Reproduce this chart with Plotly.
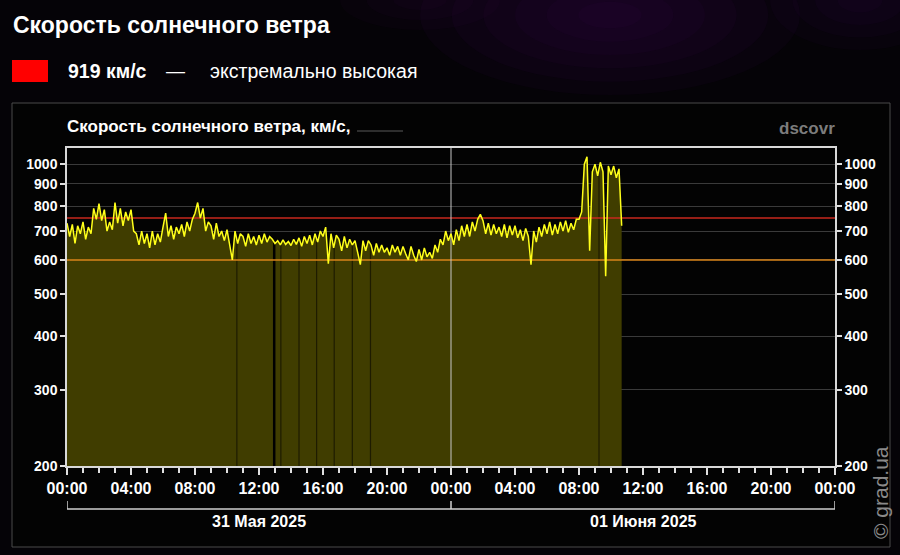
import numpy as np
import pandas as pd
import plotly.graph_objects as go

# ---------------- data ----------------
start_time = "2025-05-31 00:00"
step_minutes = 10
# solar wind speed, km/s, every 10 minutes
speed = [
    730, 680, 725, 655, 720, 690,   # 00h 31.05
    735, 670, 715, 690, 790, 745,   # 01h
    810, 740, 785, 700, 735, 705,   # 02h
    815, 730, 790, 720, 775, 740,   # 03h
    785, 700, 690, 650, 700, 655,   # 04h
    690, 640, 700, 650, 690, 660,   # 05h
    715, 770, 680, 720, 670, 715,   # 06h
    690, 725, 680, 735, 700, 745,   # 07h
    770, 815, 750, 790, 700, 735,   # 08h
    720, 670, 730, 680, 700, 665,   # 09h
    705, 650, 600, 700, 655, 690,   # 10h
    680, 645, 690, 655, 680, 650,   # 11h
    685, 655, 690, 660, 680, 670,   # 12h
    655, 665, 650, 668, 652, 662,   # 13h
    648, 670, 652, 675, 645, 680,   # 14h
    655, 685, 650, 690, 660, 700,   # 15h
    680, 715, 588, 690, 640, 685,   # 16h
    670, 630, 680, 640, 670, 650,   # 17h
    665, 625, 585, 665, 630, 665,   # 18h
    650, 615, 655, 625, 650, 625,   # 19h
    640, 615, 650, 625, 645, 615,   # 20h
    645, 620, 600, 645, 615, 595,   # 21h
    635, 600, 640, 610, 625, 605,   # 22h
    650, 625, 670, 650, 700, 665,   # 23h
    690, 650, 705, 665, 720, 680,   # 00h 01.06
    725, 680, 735, 700, 745, 765,   # 01h
    740, 690, 730, 685, 725, 690,   # 02h
    715, 680, 725, 675, 720, 685,   # 03h
    720, 675, 705, 665, 710, 680,   # 04h
    585, 700, 660, 715, 680, 725,   # 05h
    690, 735, 685, 725, 690, 735,   # 06h
    700, 740, 695, 730, 705, 745,   # 07h
    745, 775, 1000, 1040, 630, 960, # 08h
    1000, 940, 1010, 960, 550, 990, # 09h
    945, 990, 930, 975, 720,        # 10h
]

# data gaps (dark vertical lines inside the fill)
gap_times = ["2025-05-31 10:37", "2025-05-31 13:22", "2025-05-31 14:30",
             "2025-05-31 15:36", "2025-05-31 16:42", "2025-05-31 17:50",
             "2025-05-31 18:58", "2025-06-01 09:15"]
wide_gap_times = ["2025-05-31 12:57"]

fast_level = 750      # red threshold
moderate_level = 600  # orange threshold
current_value = 919

y_ticks = [200, 300, 400, 500, 600, 700, 800, 900, 1000]
day_labels = ["31 Мая 2025", "01 Июня 2025"]
day_starts = ["2025-05-31 00:00", "2025-06-01 00:00", "2025-06-02 00:00"]
day_centers = ["2025-05-31 12:00", "2025-06-01 12:00"]

# ---------------- figure ----------------
t = pd.date_range(start_time, periods=len(speed), freq=f"{step_minutes}min")
t_ns = t.values.astype("datetime64[ns]").astype(np.int64)

def top_at(times):
    tt = pd.to_datetime(times).values.astype("datetime64[ns]").astype(np.int64)
    return np.interp(tt, t_ns, speed)

FONT = "Liberation Sans"
LINE_Y = "#ffff1a"
FILL = "#403d00"
x0, x1 = day_starts[0], day_starts[-1]

fig = go.Figure()

# fill
fig.add_trace(go.Scatter(x=t, y=speed, mode="lines", line=dict(width=0, color=FILL),
                         fill="tozeroy", fillcolor=FILL, hoverinfo="skip", showlegend=False))

# gaps
gx, gy = [], []
for g, top in zip(gap_times, top_at(gap_times)):
    gx += [g, g, None]; gy += [200, top, None]
fig.add_trace(go.Scatter(x=gx, y=gy, mode="lines", line=dict(color="#1e1c00", width=1.2),
                         hoverinfo="skip", showlegend=False))
wx, wy = [], []
for g, top in zip(wide_gap_times, top_at(wide_gap_times)):
    wx += [g, g, None]; wy += [200, top, None]
fig.add_trace(go.Scatter(x=wx, y=wy, mode="lines", line=dict(color="#000000", width=2.5),
                         hoverinfo="skip", showlegend=False))

# thresholds
fig.add_trace(go.Scatter(x=[x0, x1], y=[fast_level, fast_level], mode="lines",
                         line=dict(color="#c8281e", width=1.5), hoverinfo="skip", showlegend=False))
fig.add_trace(go.Scatter(x=[x0, x1], y=[moderate_level, moderate_level], mode="lines",
                         line=dict(color="#d8841a", width=1.5), hoverinfo="skip", showlegend=False))
# midnight line
fig.add_trace(go.Scatter(x=[day_starts[1], day_starts[1]], y=[200, 1090], mode="lines",
                         line=dict(color="#c8c8c8", width=1), hoverinfo="skip", showlegend=False))

# speed line
fig.add_trace(go.Scatter(x=t, y=speed, mode="lines", line=dict(color=LINE_Y, width=1.5),
                         showlegend=False))
# dummy for right axis
fig.add_trace(go.Scatter(x=[t[0]], y=[speed[0]], yaxis="y2", mode="markers",
                         marker=dict(opacity=0), hoverinfo="skip", showlegend=False))

yr = [np.log10(200), np.log10(1090)]
tickfont = dict(family=FONT, size=14, color="white", weight="bold")

fig.update_layout(
    width=900, height=555,
    margin=dict(l=67, r=65, t=148, b=89),
    paper_bgcolor="#050307", plot_bgcolor="rgba(0,0,0,0)",
    font=dict(family=FONT, color="white"),
    xaxis=dict(range=[x0, x1], type="date", dtick=4 * 3600 * 1000, tick0=x0,
               tickformat="%H:%M", ticks="outside", ticklen=7, tickcolor="#e0e0e0",
               tickwidth=1.5,
               minor=dict(dtick=3600 * 1000, ticks="outside", ticklen=5, tickcolor="#e0e0e0",
                          showgrid=False),
               showgrid=False, showline=True, linecolor="#d8d8d8", linewidth=1.5, mirror=True,
               tickfont=dict(family=FONT, size=16, color="white", weight="bold"),
               zeroline=False),
    yaxis=dict(type="log", range=yr, tickvals=y_ticks, ticktext=[str(v) for v in y_ticks],
               ticks="outside", ticklen=5, tickcolor="#e0e0e0", tickwidth=1.5,
               showgrid=True, gridcolor="#3a3a3a", gridwidth=1,
               showline=True, linecolor="#d8d8d8", linewidth=1.5, mirror=True,
               tickfont=tickfont, zeroline=False),
    yaxis2=dict(type="log", range=yr, tickvals=y_ticks, ticktext=[str(v) for v in y_ticks],
                overlaying="y", side="right", ticks="outside", ticklen=5, tickcolor="#e0e0e0",
                tickwidth=1.5, showgrid=False, showline=True, linecolor="#d8d8d8", linewidth=1.5,
                tickfont=tickfont, zeroline=False),
)

def px_x(px):
    return (px - 67) / 768

def px_y(py):
    return (466 - py) / 318

shapes = []
# soft purple haze in background (many faint layers)
for cx, cy, rx, ry, n, op in [(610, 15, 190, 80, 6, 0.07), (860, 0, 90, 50, 4, 0.06),
                              (420, 0, 80, 30, 3, 0.05)]:
    for k in range(n):
        f = 1 - k / n
        shapes.append(dict(type="circle", xref="paper", yref="paper", layer="below",
                           x0=px_x(cx - rx * f), x1=px_x(cx + rx * f),
                           y0=px_y(cy + ry * f), y1=px_y(cy - ry * f),
                           fillcolor="#4a1368", opacity=op, line=dict(width=0)))
# panel
shapes.append(dict(type="rect", xref="paper", yref="paper", layer="below",
                   x0=px_x(12), x1=px_x(890), y0=px_y(547), y1=px_y(103),
                   fillcolor="#030303", line=dict(color="#4a4a4a", width=1)))
# red legend box
shapes.append(dict(type="rect", xref="paper", yref="paper",
                   x0=px_x(12), x1=px_x(48), y0=px_y(82), y1=px_y(60),
                   fillcolor="#ff0000", line=dict(width=0)))
# subtitle legend line
shapes.append(dict(type="line", xref="paper", yref="paper",
                   x0=px_x(357), x1=px_x(403), y0=px_y(131), y1=px_y(131),
                   line=dict(color="#5a5a5a", width=1)))
# day brackets
for i in range(len(day_labels)):
    shapes.append(dict(type="line", xref="x", yref="paper",
                       x0=day_starts[i], x1=day_starts[i + 1], y0=px_y(509), y1=px_y(509),
                       line=dict(color="#cfcfcf", width=1.5)))
for d in day_starts:
    shapes.append(dict(type="line", xref="x", yref="paper",
                       x0=d, x1=d, y0=px_y(509), y1=px_y(501),
                       line=dict(color="#cfcfcf", width=1.5)))
fig.update_layout(shapes=shapes)

ann = []
ann.append(dict(text="Скорость солнечного ветра", xref="paper", yref="paper",
                x=px_x(11), y=px_y(25), xanchor="left", yanchor="middle", showarrow=False,
                font=dict(family=FONT, size=23, color="white", weight="bold")))
ann.append(dict(text=f"{current_value} км/с", xref="paper", yref="paper",
                x=px_x(66), y=px_y(71), xanchor="left", yanchor="middle", showarrow=False,
                font=dict(family=FONT, size=19.5, color="white", weight="bold")))
ann.append(dict(text="—", xref="paper", yref="paper",
                x=px_x(164), y=px_y(71), xanchor="left", yanchor="middle", showarrow=False,
                font=dict(family=FONT, size=19, color="white")))
ann.append(dict(text="экстремально высокая", xref="paper", yref="paper",
                x=px_x(208), y=px_y(71), xanchor="left", yanchor="middle", showarrow=False,
                font=dict(family=FONT, size=19.5, color="white")))
ann.append(dict(text="Скорость солнечного ветра, км/с,", xref="paper", yref="paper",
                x=px_x(65), y=px_y(127), xanchor="left", yanchor="middle", showarrow=False,
                font=dict(family=FONT, size=17, color="white", weight="bold")))
ann.append(dict(text="dscovr", xref="paper", yref="paper",
                x=px_x(837), y=px_y(129), xanchor="right", yanchor="middle", showarrow=False,
                font=dict(family=FONT, size=17, color="#7c7c7c", weight="bold")))
ann.append(dict(text="© grad.ua", xref="paper", yref="paper", textangle=-90,
                x=px_x(880), y=px_y(493), xanchor="center", yanchor="middle", showarrow=False,
                font=dict(family=FONT, size=21, color="#8a8a8a")))
for lbl, c in zip(day_labels, day_centers):
    ann.append(dict(text=lbl, xref="x", yref="paper", x=c, y=px_y(521),
                    xanchor="center", yanchor="middle", showarrow=False,
                    font=dict(family=FONT, size=16, color="white", weight="bold")))
fig.update_layout(annotations=ann)

fig.write_html("out.html", config=dict(displayModeBar=False),
               post_script="document.body.style.margin='0';document.body.style.overflow='hidden';")
